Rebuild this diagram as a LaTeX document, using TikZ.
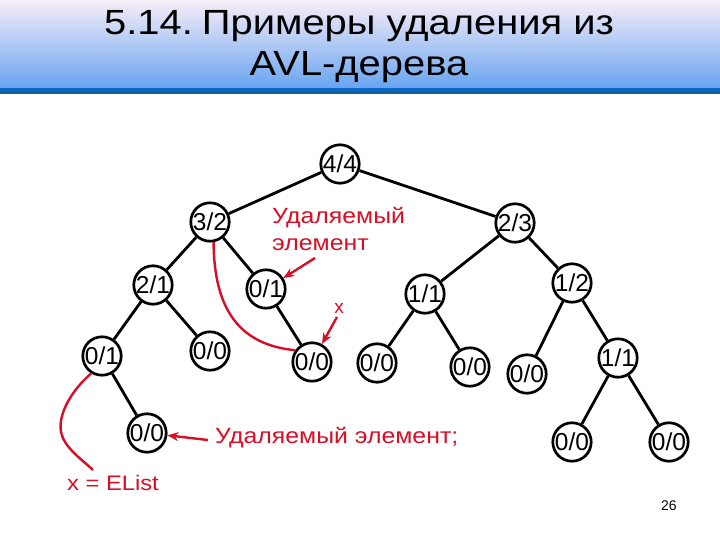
\documentclass[tikz,border=0pt]{standalone}
\usepackage{fontspec}
\usepackage{graphicx}
\setmainfont{Liberation Sans}
\usetikzlibrary{arrows.meta}
\definecolor{annred}{RGB}{215,14,38}
\definecolor{hdtop}{RGB}{248,238,248}
\definecolor{hdmid}{RGB}{170,205,248}
\definecolor{hdbot}{RGB}{104,164,240}
\definecolor{bandblue}{RGB}{10,102,200}
\definecolor{bandteal}{RGB}{22,98,140}
\begin{document}
\begin{tikzpicture}[x=1pt,y=-1pt,
  tnode/.style={circle,draw,line width=2.7pt,minimum size=38pt,inner sep=0pt,font=\fontsize{24.5}{24.5}\selectfont},
  edge/.style={line width=2.8pt},
  redarrow/.style={annred,line width=2.4pt,-{Stealth[length=11pt,width=9pt]}},
  redcurve/.style={annred,line width=2.4pt},
  redtext/.style={text=annred,inner sep=0pt,font=\fontsize{22}{22}\selectfont},
  titletext/.style={anchor=base,inner sep=0pt,font=\fontsize{35}{35}\selectfont}
]
\useasboundingbox (0,0) rectangle (720,540);
\fill[white] (0,0) rectangle (720,540);
\begin{scope}[y=1pt]
\shade[top color=hdtop, middle color=hdmid, bottom color=hdbot] (0,-88) rectangle (720,0);
\fill[bandblue] (0,-91) rectangle (720,-88);
\fill[bandteal] (0,-94.5) rectangle (720,-91);
\end{scope}

\node[titletext] (t1) at (359,35) {\scalebox{1.14}[1]{5.14.\kern-0.05em\ Примеры удаления из}};
\node[titletext] (t2) at (359,76) {\scalebox{1.14}[1]{AVL-дерева}};

% tree nodes
\node[tnode] (n44) at (340,164) {4/4};
\node[tnode] (n32) at (210,222) {3/2};
\node[tnode] (n23) at (515,223) {2/3};
\node[tnode] (n21) at (153,285) {2/1};
\node[tnode] (m01) at (266,289) {0/1};
\node[tnode] (r11) at (425,294) {1/1};
\node[tnode] (n12) at (572,283) {1/2};
\node[tnode] (l01) at (102,356) {0/1};
\node[tnode] (a00) at (210,351) {0/0};
\node[tnode] (m00) at (312,362) {0/0};
\node[tnode] (b00) at (377,363) {0/0};
\node[tnode] (c00) at (470,367) {0/0};
\node[tnode] (d00) at (527,374) {0/0};
\node[tnode] (s11) at (618,358) {1/1};
\node[tnode] (e00) at (572,442) {0/0};
\node[tnode] (f00) at (669,442) {0/0};
\node[tnode] (g00) at (147,433) {0/0};

% edges
\draw[edge] (n44) -- (n32);
\draw[edge] (n44) -- (n23);
\draw[edge] (n32) -- (n21);
\draw[edge] (n32) -- (m01);
\draw[edge] (n21) -- (l01);
\draw[edge] (n21) -- (a00);
\draw[edge] (l01) -- (g00);
\draw[edge] (m01) -- (m00);
\draw[edge] (n23) -- (r11);
\draw[edge] (n23) -- (n12);
\draw[edge] (r11) -- (b00);
\draw[edge] (r11) -- (c00);
\draw[edge] (n12) -- (d00);
\draw[edge] (n12) -- (s11);
\draw[edge] (s11) -- (e00);
\draw[edge] (s11) -- (f00);

% annotations
\node[redtext,anchor=base west] (del1a) at (272,223) {\scalebox{1.13}[1]{Удаляемый}};
\node[redtext,anchor=base west] (del1b) at (272,250) {\scalebox{1.13}[1]{элемент}};
\coordinate (a1) at (315,258);
\draw[redarrow] (a1) -- (m01);

\node[redtext,anchor=base,font=\fontsize{19}{19}\selectfont] (xlab) at (339,313) {x};
\coordinate (a2) at (337,317);
\draw[redarrow] (a2) -- (m00);

\draw[redcurve] (n32.-80) .. controls (214,310) and (240,345) .. (m00.145);

\node[redtext,anchor=base west] (del2) at (215,443) {\scalebox{1.13}[1]{Удаляемый элемент;}};
\coordinate (a3) at (208,440);
\draw[redarrow] (a3) -- (g00);

\coordinate (elend) at (93,470);
\draw[redcurve] (l01.-122) .. controls (70,392) and (58,415) .. (61,432) .. controls (64,447) and (80,458) .. (elend);
\node[redtext,anchor=base west,font=\fontsize{21}{21}\selectfont] (elist) at (67,490) {\scalebox{1.13}[1]{x = EList}};

\node[anchor=base west,inner sep=0pt,font=\fontsize{14}{14}\selectfont] (pg) at (661,510) {26};
\end{tikzpicture}
\end{document}
